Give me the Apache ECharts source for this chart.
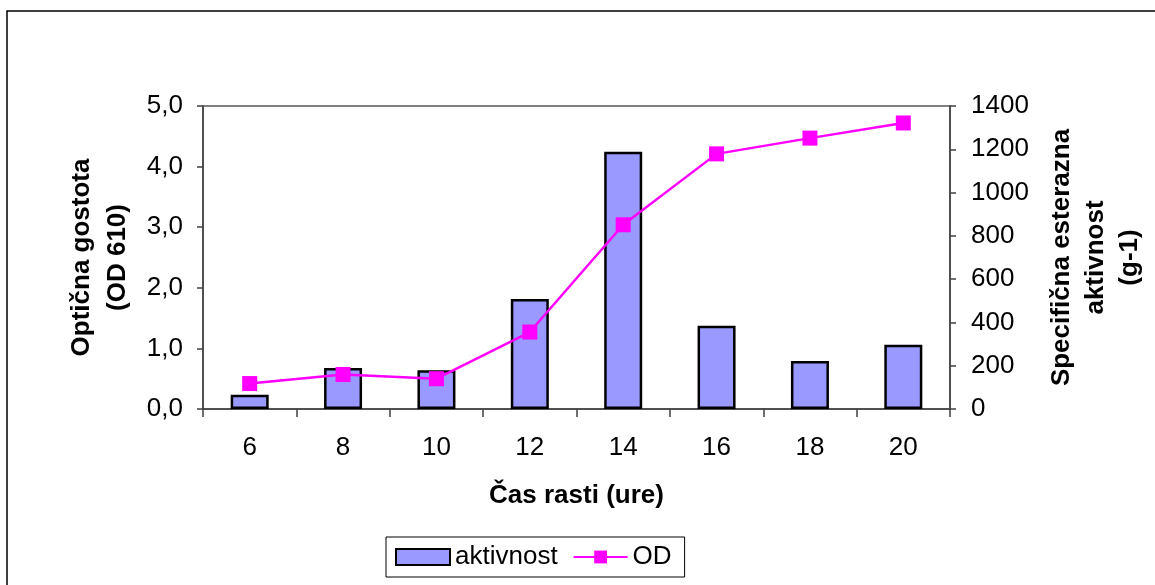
<!DOCTYPE html>
<html>
<head>
<meta charset="utf-8">
<style>
  html, body { margin: 0; padding: 0; background: #fff; }
  #chart { width: 1155px; height: 585px; }
</style>
<script src="https://cdn.jsdelivr.net/npm/echarts@6/dist/echarts.min.js"></script>
</head>
<body>
<div id="chart"></div>
<script>
// Growth time in hours
const hours = ['6', '8', '10', '12', '14', '16', '18', '20'];
// Specific esterase activity (right axis)
const aktivnost = [66, 189, 179, 508, 1189, 385, 222, 297];
// Optical density at 610 nm (left axis)
const od = [0.42, 0.57, 0.50, 1.27, 3.04, 4.21, 4.47, 4.72];

const FONT = '"Liberation Sans", Arial, sans-serif';
const AXIS_COLOR = '#404040';

const chart = echarts.init(document.getElementById('chart'), null, { renderer: 'canvas' });

chart.setOption({
  backgroundColor: '#ffffff',
  animation: false,
  textStyle: { fontFamily: FONT, color: '#000' },
  graphic: [{
    type: 'rect',
    shape: { x: 7, y: 11, width: 1300, height: 800 },
    style: { fill: null, stroke: '#000', lineWidth: 1.5 },
    silent: true
  }],
  grid: {
    left: 203, right: 202, top: 106, bottom: 176,
    show: true, borderColor: '#808080', borderWidth: 2, backgroundColor: '#fff'
  },
  legend: {
    left: 386, top: 537,
    padding: [7, 13, 7, 9],
    itemWidth: 54, itemHeight: 16, itemGap: 15,
    borderColor: '#000', borderWidth: 1,
    textStyle: { fontFamily: FONT, fontSize: 26, color: '#000' },
    data: [{ name: 'aktivnost', icon: 'rect' }, 'OD']
  },
  xAxis: {
    type: 'category',
    data: hours,
    boundaryGap: true,
    name: 'Čas rasti (ure)',
    nameLocation: 'middle',
    nameGap: 74,
    nameTextStyle: { fontFamily: FONT, fontSize: 26, fontWeight: 'bold', color: '#000' },
    axisLine: { lineStyle: { color: AXIS_COLOR, width: 1.5 } },
    axisTick: { show: true, length: 8, lineStyle: { color: AXIS_COLOR, width: 1.5 } },
    axisLabel: { fontFamily: FONT, fontSize: 26, color: '#000', margin: 26 },
    splitLine: { show: false }
  },
  yAxis: [{
    type: 'value',
    position: 'left',
    min: 0, max: 5, interval: 1,
    name: 'Optična gostota\n(OD 610)',
    nameLocation: 'middle',
    nameRotate: 90,
    nameGap: 63,
    nameTextStyle: { fontFamily: FONT, fontSize: 26, fontWeight: 'bold', color: '#000', lineHeight: 36, align: 'center' },
    axisLine: { show: true, lineStyle: { color: AXIS_COLOR, width: 1.5 } },
    axisTick: { show: true, length: 6, lineStyle: { color: AXIS_COLOR, width: 1.5 } },
    axisLabel: {
      fontFamily: FONT, fontSize: 26, color: '#000', margin: 20,
      formatter: v => v.toFixed(1).replace('.', ',')
    },
    splitLine: { show: false }
  }, {
    type: 'value',
    position: 'right',
    min: 0, max: 1400, interval: 200,
    name: 'Specifična esterazna\naktivnost\n(g-1)',
    nameLocation: 'middle',
    nameRotate: 90,
    nameGap: 95,
    nameTextStyle: { fontFamily: FONT, fontSize: 26, fontWeight: 'bold', color: '#000', lineHeight: 34, align: 'center' },
    axisLine: { show: true, lineStyle: { color: AXIS_COLOR, width: 1.5 } },
    axisTick: { show: true, length: 6, lineStyle: { color: AXIS_COLOR, width: 1.5 } },
    axisLabel: {
      fontFamily: FONT, fontSize: 26, color: '#000', margin: 21,
      formatter: v => String(v)
    },
    splitLine: { show: false }
  }],
  series: [{
    name: 'aktivnost',
    type: 'bar',
    yAxisIndex: 1,
    data: aktivnost,
    barWidth: 38,
    itemStyle: { color: '#9999FF', borderColor: '#000', borderWidth: 2.5 }
  }, {
    name: 'OD',
    type: 'line',
    yAxisIndex: 0,
    data: od,
    symbol: 'rect',
    symbolSize: 15,
    lineStyle: { color: '#FF00FF', width: 2.5 },
    itemStyle: { color: '#FF00FF' }
  }]
});
</script>
</body>
</html>
